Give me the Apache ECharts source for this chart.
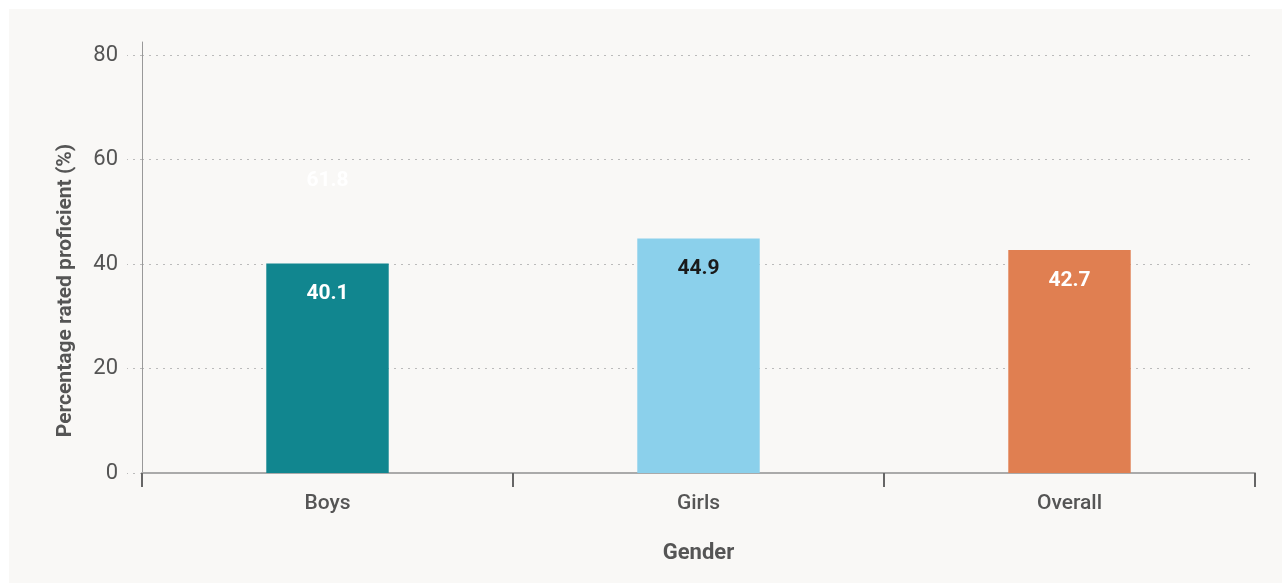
<!DOCTYPE html>
<html>
<head>
<meta charset="utf-8">
<script src="https://cdn.jsdelivr.net/npm/echarts@6/dist/echarts.min.js"></script>
<style>
  html, body { margin: 0; padding: 0; background: #ffffff; }
  #chart { width: 1282px; height: 584px; }
</style>
</head>
<body>
<div id="chart"></div>
<script>
const categories = ['Boys', 'Girls', 'Overall'];
const proficient = [40.1, 44.9, 42.7];
const ghostValues = [61.8, null, null];
const yTicks = [0, 20, 40, 60, 80];
const barColors = ['#11868f', '#8bd0eb', '#e07f51'];
const labelColors = ['#ffffff', '#1a1a1a', '#ffffff'];

const chart = echarts.init(document.getElementById('chart'), null, { renderer: 'canvas' });
const FONT = 'Roboto, "Noto Sans", sans-serif';

const option = {
  animation: false,
  backgroundColor: '#ffffff',
  graphic: [{
    type: 'rect', z: -10, silent: true,
    shape: { x: 9, y: 9, width: 1273, height: 574 },
    style: { fill: '#f9f8f6' }
  }],
  grid: { left: 142, right: 27, top: 42, bottom: 111 },
  xAxis: {
    type: 'category',
    data: categories,
    name: 'Gender',
    nameLocation: 'middle',
    nameGap: 69,
    nameTextStyle: { fontFamily: FONT, fontSize: 22, fontWeight: 'bold', color: '#555555' },
    axisLine: { show: true, lineStyle: { color: '#aaaaaa', width: 2 } },
    axisTick: { show: true, length: 14, lineStyle: { color: '#666666', width: 2 } },
    axisLabel: { margin: 20, fontFamily: FONT, fontSize: 21, fontWeight: 500, color: '#555555' },
    splitLine: { show: false }
  },
  yAxis: {
    type: 'value',
    min: 0,
    max: 82.5,
    interval: 20,
    name: 'Percentage rated proficient (%)',
    nameLocation: 'middle',
    nameGap: 66,
    nameTextStyle: { fontFamily: FONT, fontSize: 21, fontWeight: 'bold', color: '#555555', padding: [0, 66, 0, 0] },
    axisLine: { show: true, lineStyle: { color: '#999999', width: 1 } },
    axisTick: { show: true, length: 15, customValues: yTicks, lineStyle: { color: '#bbbbbb', type: [2, 5], width: 1 } },
    axisLabel: { margin: 24, customValues: yTicks, fontFamily: FONT, fontSize: 22, color: '#555555' },
    splitLine: { show: true, lineStyle: { color: '#bbbbbb', type: [2, 5], width: 1 } }
  },
  series: [
    {
      type: 'bar',
      name: 'ghost',
      data: ghostValues,
      barWidth: '33%',
      barGap: '-100%',
      itemStyle: { color: 'rgba(0,0,0,0)' },
      label: { show: true, position: 'insideTop', distance: 20, fontFamily: FONT, fontSize: 21, fontWeight: 'bold', color: '#ffffff' },
      z: 1
    },
    {
      type: 'bar',
      name: 'Proficient',
      barWidth: '33%',
      barGap: '-100%',
      data: proficient.map((v, i) => ({
        value: v,
        itemStyle: { color: barColors[i] },
        label: { color: labelColors[i] }
      })),
      label: { show: true, position: 'insideTop', distance: 20, fontFamily: FONT, fontSize: 21, fontWeight: 'bold' },
      z: 2
    }
  ]
};
chart.setOption(option);
</script>
</body>
</html>
